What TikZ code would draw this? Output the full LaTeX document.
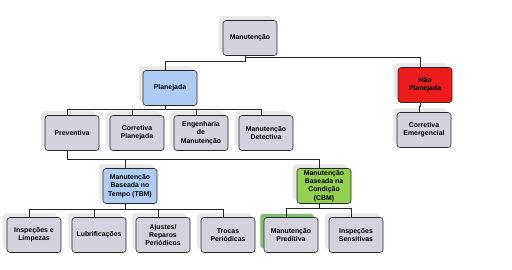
\documentclass[tikz,border=0pt]{standalone}
\usepackage{fontspec}
\setmainfont{Liberation Sans}
\usepackage{tikz}
\usetikzlibrary{shadows}
\definecolor{boxgray}{RGB}{212,210,222}
\definecolor{planblue}{RGB}{174,204,244}
\definecolor{naored}{RGB}{236,28,28}
\definecolor{cbmgreen}{RGB}{146,208,80}
\definecolor{predshadow}{RGB}{128,190,112}

\begin{document}
\begin{tikzpicture}[x=1pt, y=-1pt, font=\fontsize{6.9}{8.3}\selectfont\bfseries,
      box/.style={draw=black!85, line width=0.6pt, rounded corners=3pt, fill=boxgray,
        minimum width=54pt, minimum height=35pt, inner sep=1pt, align=center,
        copy shadow={shadow xshift=-4pt, shadow yshift=4pt, fill=#1, draw=black!8}},
      box/.default=black!9,
      link/.style={draw=black!85, line width=0.9pt}]
    \useasboundingbox (0,0) rectangle (512,269);
    % top levels
    \node[box] (Manut) at (250,38) {Manutenção};
    \node[box, fill=planblue] (Plan) at (170,88) {Planejada};
    \node[box, fill=naored] (NaoPlan) at (425,85) {Não\\Planejada};
    \node[box] (CorrEm) at (424,130) {Corretiva\\Emergencial};
    \foreach \cx/\name/\lab in {72/Prev/Preventiva, 137/CorrPl/{Corretiva\\Planejada},
                                201/Eng/{Engenharia\\de\\Manutenção}, 266/Detect/{Manutenção\\Detectiva}}
      \node[box] (\name) at (\cx,133) {\lab};
    % time based / condition based
    \node[box, fill=planblue] (TBM) at (130,186) {Manutenção\\Baseada no\\Tempo (TBM)};
    \node[box, fill=cbmgreen] (CBM) at (324,186) {Manutenção\\Baseada na\\Condição\\(CBM)};
    \foreach \cx/\name/\lab in {34/Insp/{Inspeções e\\Limpezas}, 99/Lub/Lubrificações,
                                163/Ajust/{Ajustes/\\Reparos\\Periódicos}, 228/Troca/{Trocas\\Periódicas},
                                356/Sens/{Inspeções\\Sensitivas}}
      \node[box] (\name) at (\cx,235) {\lab};
    \node[box=predshadow] (Pred) at (291,235) {Manutenção\\Preditiva};
    % connectors
    \foreach \pa/\ch/\dy in {Manut/Plan/6, Manut/NaoPlan/2, NaoPlan/CorrEm/4,
                             Plan/Prev/4, Plan/CorrPl/4, Plan/Eng/4, Plan/Detect/4,
                             Prev/TBM/9, Prev/CBM/9,
                             TBM/Insp/6, TBM/Lub/6, TBM/Ajust/6, TBM/Troca/6,
                             CBM/Pred/5, CBM/Sens/5}
      \draw[link] ([xshift=-5pt]\pa.south) -- ++(0,\dy) -| ([xshift=-5pt]\ch.north);
  \end{tikzpicture}
\end{document}
